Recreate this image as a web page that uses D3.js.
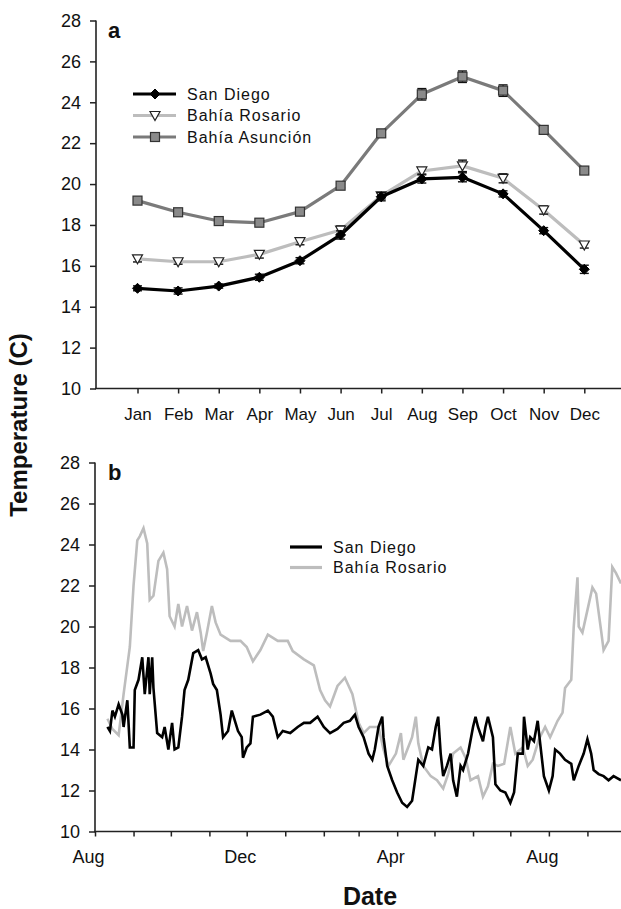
<!DOCTYPE html>
<html>
<head>
<meta charset="utf-8">
<script src="https://cdn.jsdelivr.net/npm/d3@7"></script>
<style>
  html, body { margin: 0; padding: 0; background: #fff; }
  svg { display: block; }
  text { font-family: "Liberation Sans", Arial, sans-serif; fill: #111; }
</style>
</head>
<body>
<svg id="chart" width="621" height="909"></svg>
<script>
// ---------- Panel a: monthly means ----------
const months = ["Jan","Feb","Mar","Apr","May","Jun","Jul","Aug","Sep","Oct","Nov","Dec"];
const sanDiegoMonthly  = [14.9, 14.77, 15.01, 15.44, 16.25, 17.51, 19.38, 20.25, 20.33, 19.52, 17.72, 15.83];
const sanDiegoErr      = [0.12, 0.15, 0.10, 0.15, 0.15, 0.20, 0.20, 0.20, 0.22, 0.15, 0.15, 0.20];
const rosarioMonthly   = [16.34, 16.2, 16.2, 16.56, 17.18, 17.75, 19.42, 20.64, 20.89, 20.28, 18.73, 17.02];
const rosarioErr       = [0.15, 0.12, 0.12, 0.18, 0.15, 0.20, 0.15, 0.15, 0.28, 0.22, 0.20, 0.15];
const asuncionMonthly  = [19.19, 18.62, 18.19, 18.11, 18.65, 19.92, 22.48, 24.39, 25.25, 24.57, 22.65, 20.66];
const asuncionErr      = [0.15, 0.10, 0.10, 0.10, 0.10, 0.10, 0.15, 0.28, 0.28, 0.28, 0.20, 0.15];
const yTicks = [10, 12, 14, 16, 18, 20, 22, 24, 26, 28];

// ---------- Panel b: daily series (days since 1 Aug 2005) ----------
const seriesStart = "2005-08-01";
const seriesEnd   = "2006-09-28";
const sanDiegoDays = [10,12,14,16,19,22,23,26,28,31,32,35,38,40,43,44,46,47,50,54,56,59,62,64,67,70,72,75,79,83,86,89,93,95,98,101,103,107,110,113,115,118,119,122,125,127,133,139,143,147,151,157,163,168,173,179,184,189,195,200,205,209,212,216,220,223,225,228,231,232,235,239,243,247,251,255,258,260,264,268,271,274,276,278,280,283,286,288,291,294,296,300,304,306,308,312,314,316,320,322,326,330,334,337,340,344,345,348,350,353,356,358,361,365,368,370,374,378,383,385,389,393,396,399,401,405,409,413,417,423];
const sanDiegoTemps = [15.1,14.9,15.9,15.6,16.2,15.7,15.1,16.4,14.1,14.1,16.9,17.4,18.5,16.7,18.5,16.7,18.5,17.0,14.8,14.6,15.1,14.0,15.3,14.0,14.1,15.6,16.9,17.4,18.7,18.85,18.4,18.5,17.7,17.2,16.9,15.7,14.6,14.9,15.9,15.3,14.9,14.6,13.6,14.1,14.3,15.6,15.7,15.9,15.6,14.6,14.9,14.8,15.1,15.3,15.3,15.6,15.1,14.8,15.0,15.3,15.4,15.7,15.1,14.6,13.8,13.5,14.0,15.1,15.6,14.6,13.2,12.5,11.9,11.4,11.2,11.5,12.7,13.5,13.2,14.1,14.0,15.1,15.6,13.8,12.7,13.2,13.8,12.5,11.7,13.2,13.0,13.8,15.1,15.6,15.1,14.4,15.1,15.6,14.6,12.3,12.0,11.9,11.4,11.9,13.8,13.8,15.6,14.0,14.6,14.4,15.4,14.3,12.7,12.0,12.7,14.0,13.8,13.5,13.3,12.5,13.2,13.8,14.5,13.8,13.0,12.8,12.7,12.5,12.7,12.5];
const rosarioDays = [10,14,19,23,28,31,34,36,39,42,44,47,51,55,58,60,64,67,70,74,78,82,85,87,90,94,97,101,109,117,122,127,133,139,147,155,159,168,176,181,185,189,195,201,207,212,216,221,228,232,236,242,246,248,255,258,260,264,270,275,280,284,288,294,298,302,308,312,316,320,324,329,334,338,344,348,352,357,362,366,372,376,378,383,385,388,389,392,396,400,403,407,409,413,416,419,423];
const rosarioTemps = [15.5,15.0,14.7,16.7,19.0,22.0,24.2,24.4,24.8,24.05,21.3,21.5,23.2,23.6,22.8,20.5,20.0,21.1,20.0,21.0,19.8,20.7,19.7,18.8,19.7,21.0,20.2,19.6,19.3,19.3,19.0,18.3,18.85,19.6,19.3,19.3,18.8,18.4,18.1,16.9,16.4,16.1,17.1,17.5,16.7,15.3,14.8,15.1,15.1,14.0,13.2,13.8,14.8,13.5,14.6,15.6,14.3,13.2,12.7,12.5,12.1,12.8,13.8,14.1,13.6,12.5,12.7,11.7,12.2,13.3,13.2,13.3,15.1,13.8,14.1,13.2,13.5,14.5,15.1,14.6,15.4,15.8,17.0,17.4,20.0,22.4,20.0,19.7,20.8,21.9,21.6,19.8,18.85,19.3,22.9,22.6,22.1];
const dateLabelMonths = ["Aug", "Dec", "Apr"];

const svg = d3.select("#chart");
const AXIS = "#222";

// ================= Panel a =================
const xA = d3.scalePoint().domain(months).range([137.5, 584.3]);
const yA = d3.scaleLinear().domain([10, 28]).range([388.5, 20.5]);
const gA = svg.append("g");

// y axis
const yAxisA = d3.axisLeft(yA).tickValues(yTicks).tickSize(6).tickPadding(9).tickFormat(d3.format("d"));
const gYA = gA.append("g").attr("transform", "translate(96,0)").call(yAxisA);
// x axis
const xAxisA = d3.axisBottom(xA).tickSize(5).tickPadding(14);
const gXA = gA.append("g").attr("transform", "translate(0,388.5)").call(xAxisA);
[gYA, gXA].forEach(g => {
  g.select(".domain").remove();
  g.selectAll(".tick line").attr("stroke", AXIS).attr("stroke-width", 1.5);
  g.selectAll(".tick text").attr("font-size", 18).attr("fill", "#111")
    .style("font-family", '"Liberation Sans", Arial, sans-serif');
});
gXA.selectAll(".tick text").attr("font-size", 17);
gA.append("line").attr("x1", 96).attr("x2", 96).attr("y1", yA(28)).attr("y2", yA(10))
  .attr("stroke", AXIS).attr("stroke-width", 1.6);
gA.append("line").attr("x1", 95).attr("x2", 621).attr("y1", yA(10)).attr("y2", yA(10))
  .attr("stroke", AXIS).attr("stroke-width", 1.6);

gA.append("text").attr("x", 108).attr("y", 38).attr("font-size", 22).attr("font-weight", "bold").text("a");

const seriesA = [
  { name: "Bahía Asunción", vals: asuncionMonthly, err: asuncionErr, color: "#7a7a7a", marker: "square" },
  { name: "Bahía Rosario", vals: rosarioMonthly, err: rosarioErr, color: "#bdbdbd", marker: "triangle" },
  { name: "San Diego", vals: sanDiegoMonthly, err: sanDiegoErr, color: "#000", marker: "diamond" }
];

function drawMarker(g, type, x, y) {
  if (type === "square") {
    g.append("rect").attr("x", x - 4.5).attr("y", y - 4.5).attr("width", 9).attr("height", 9)
      .attr("fill", "#8a8a8a").attr("stroke", "#333").attr("stroke-width", 1.2);
  } else if (type === "triangle") {
    g.append("path").attr("d", `M${x-5},${y-4} L${x+5},${y-4} L${x},${y+5} Z`)
      .attr("fill", "#fff").attr("stroke", "#222").attr("stroke-width", 1.2);
  } else {
    g.append("path").attr("d", `M${x},${y-5} L${x+5},${y} L${x},${y+5} L${x-5},${y} Z`)
      .attr("fill", "#000").attr("stroke", "#000").attr("stroke-width", 1);
  }
}

const lineA = d3.line().x((d, i) => xA(months[i])).y(d => yA(d));
seriesA.forEach(s => {
  const g = gA.append("g");
  g.append("path").datum(s.vals).attr("d", lineA).attr("fill", "none")
    .attr("stroke", s.color).attr("stroke-width", 3.2).attr("stroke-linejoin", "round");
  s.vals.forEach((v, i) => {
    const x = xA(months[i]);
    const y1 = yA(v + s.err[i]), y2 = yA(v - s.err[i]);
    g.append("line").attr("x1", x).attr("x2", x).attr("y1", y1).attr("y2", y2).attr("stroke", "#111").attr("stroke-width", 1.2);
    g.append("line").attr("x1", x - 4.5).attr("x2", x + 4.5).attr("y1", y1).attr("y2", y1).attr("stroke", "#111").attr("stroke-width", 1.4);
    g.append("line").attr("x1", x - 4.5).attr("x2", x + 4.5).attr("y1", y2).attr("y2", y2).attr("stroke", "#111").attr("stroke-width", 1.4);
    drawMarker(g, s.marker, x, yA(v));
  });
});

// legend a
const legA = [
  { name: "San Diego", color: "#000", marker: "diamond" },
  { name: "Bahía Rosario", color: "#bdbdbd", marker: "triangle" },
  { name: "Bahía Asunción", color: "#7a7a7a", marker: "square" }
];
legA.forEach((s, i) => {
  const y = 94 + i * 21.5;
  gA.append("line").attr("x1", 133).attr("x2", 176).attr("y1", y).attr("y2", y)
    .attr("stroke", s.color).attr("stroke-width", 3.2);
  drawMarker(gA, s.marker, 155, y);
  gA.append("text").attr("x", 187).attr("y", y + 5.5).attr("font-size", 16)
    .attr("letter-spacing", 1).text(s.name);
});

// ================= Panel b =================
const parse = d3.timeParse("%Y-%m-%d");
const t0 = parse(seriesStart), t1 = parse(seriesEnd);
const xB = d3.scaleTime().domain([t0, t1]).range([95, 621]);
const yB = d3.scaleLinear().domain([10, 28]).range([831.5, 462.5]);
const gB = svg.append("g");

const yAxisB = d3.axisLeft(yB).tickValues(yTicks).tickSize(6).tickPadding(9).tickFormat(d3.format("d"));
const gYB = gB.append("g").attr("transform", "translate(95,0)").call(yAxisB);
const fmtMonth = d3.timeFormat("%b");
const xAxisB = d3.axisBottom(xB).ticks(d3.timeMonth.every(1)).tickSize(5).tickPadding(14)
  .tickFormat(d => dateLabelMonths.includes(fmtMonth(d)) ? fmtMonth(d) : "");
const gXB = gB.append("g").attr("transform", "translate(0,831.5)").call(xAxisB);
[gYB, gXB].forEach(g => {
  g.select(".domain").remove();
  g.selectAll(".tick line").attr("stroke", AXIS).attr("stroke-width", 1.5);
  g.selectAll(".tick text").attr("font-size", 18).attr("fill", "#111")
    .style("font-family", '"Liberation Sans", Arial, sans-serif');
});
gXB.selectAll(".tick text").attr("dx", -7);
gB.append("line").attr("x1", 95).attr("x2", 95).attr("y1", yB(28)).attr("y2", yB(10))
  .attr("stroke", AXIS).attr("stroke-width", 1.6);
gB.append("line").attr("x1", 94).attr("x2", 621).attr("y1", yB(10)).attr("y2", yB(10))
  .attr("stroke", AXIS).attr("stroke-width", 1.6);

gB.append("text").attr("x", 108).attr("y", 480).attr("font-size", 22).attr("font-weight", "bold").text("b");

const lineB = d3.line().x(d => xB(d3.timeDay.offset(t0, d[0]))).y(d => yB(d[1]));
const rosarioData = rosarioDays.map((d, i) => [d, rosarioTemps[i]]);
const sanDiegoData = sanDiegoDays.map((d, i) => [d, sanDiegoTemps[i]]);
gB.append("path").datum(rosarioData).attr("d", lineB).attr("fill", "none")
  .attr("stroke", "#bdbdbd").attr("stroke-width", 2.6).attr("stroke-linejoin", "miter");
gB.append("path").datum(sanDiegoData).attr("d", lineB).attr("fill", "none")
  .attr("stroke", "#000").attr("stroke-width", 2.6).attr("stroke-linejoin", "miter");

// legend b
[{ name: "San Diego", color: "#000" }, { name: "Bahía Rosario", color: "#bdbdbd" }].forEach((s, i) => {
  const y = 547 + i * 20.5;
  gB.append("line").attr("x1", 290).attr("x2", 322).attr("y1", y).attr("y2", y)
    .attr("stroke", s.color).attr("stroke-width", 3.2);
  gB.append("text").attr("x", 333).attr("y", y + 5.5).attr("font-size", 16)
    .attr("letter-spacing", 1).text(s.name);
});

// shared labels
svg.append("text").attr("transform", "translate(27,425) rotate(-90)")
  .attr("text-anchor", "middle").attr("font-size", 24).attr("font-weight", "bold")
  .text("Temperature (C)");
svg.append("text").attr("x", 370).attr("y", 905).attr("text-anchor", "middle")
  .attr("font-size", 25).attr("font-weight", "bold").text("Date");
</script>
</body>
</html>
